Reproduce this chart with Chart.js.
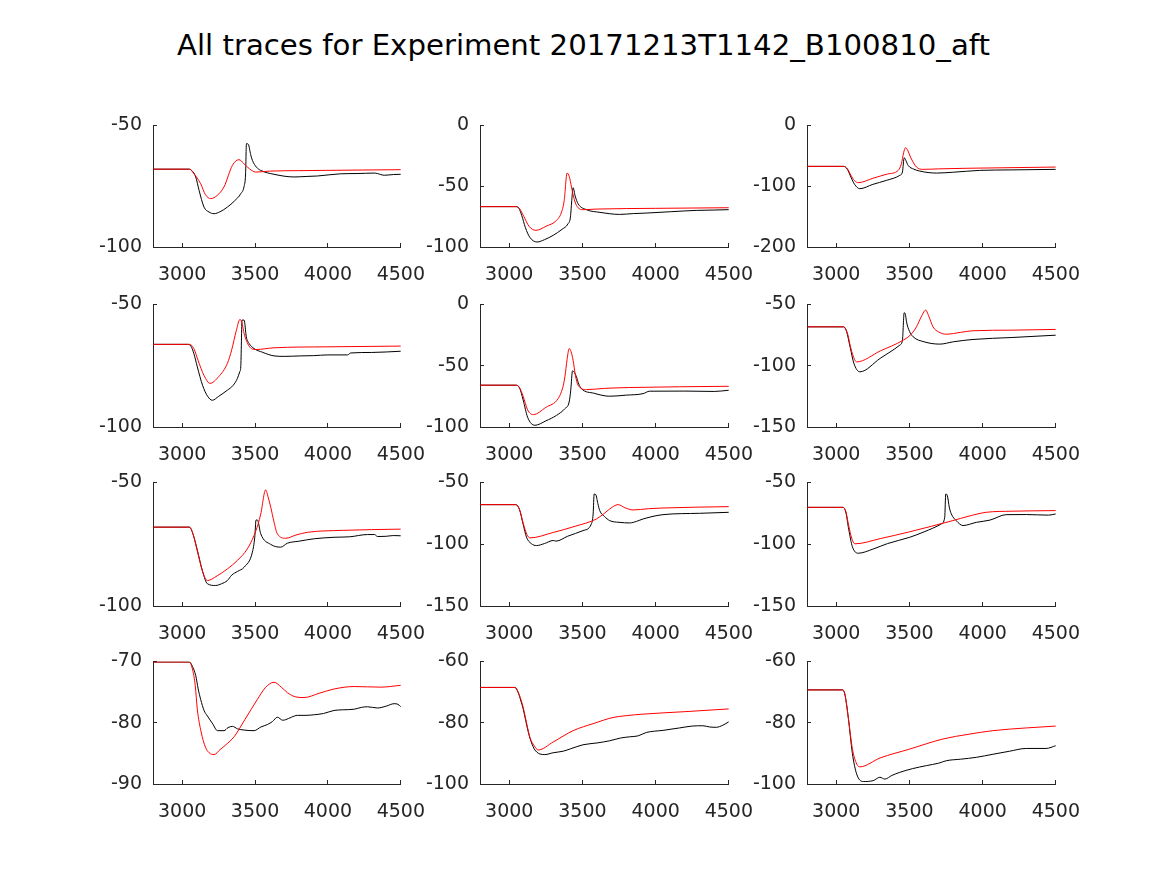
<!DOCTYPE html>
<html>
<head>
<meta charset="utf-8">
<script src="https://cdn.jsdelivr.net/npm/chart.js@4/dist/chart.umd.min.js"></script>
<style>
  body { margin: 0; background: #fff; width: 1167px; height: 875px; position: relative; overflow: hidden; font-family: "DejaVu Sans", sans-serif; }
  #title { position: absolute; left: 0; width: 1167px; top: 31px; text-align: center; font-size: 29.2px; line-height: 29px; color: #000; }
  canvas { position: absolute; }
</style>
</head>
<body>
<div id="title">All traces for Experiment 20171213T1142_B100810_aft</div>
<script>
// x axis shared by every panel
const xRange = [2800, 4500];
const xTicks = [3000, 3500, 4000, 4500];

// y ticks per panel (first and last are the axis limits)
const yTicks1 = [-100, -50];
const yTicks2 = [-100, -50, 0];
const yTicks3 = [-200, -100, 0];
const yTicks4 = [-100, -50];
const yTicks5 = [-100, -50, 0];
const yTicks6 = [-150, -100, -50];
const yTicks7 = [-100, -50];
const yTicks8 = [-150, -100, -50];
const yTicks9 = [-150, -100, -50];
const yTicks10 = [-90, -80, -70];
const yTicks11 = [-100, -80, -60];
const yTicks12 = [-100, -80, -60];

// traces as [time, value]
const black1 = [[2800,-68],[3045,-68],[3058,-68.2],[3093,-71.2],[3116,-76.7],[3150,-83.6],[3184,-85.6],[3219,-86.3],[3260,-85.5],[3310,-83.6],[3360,-81],[3402,-78.1],[3425,-75],[3435,-70],[3441,-57.5],[3454,-57.8],[3470,-62],[3482,-64.4],[3510,-67.2],[3539,-68.5],[3630,-70.1],[3768,-71.2],[3850,-71],[3928,-70.8],[4088,-69.9],[4200,-69.8],[4317,-69.6],[4340,-69.8],[4386,-70.5],[4450,-70.2],[4500,-70.1]];
const red1 = [[2800,-68],[3050,-68],[3080,-69.8],[3127,-74],[3160,-78.5],[3196,-80.1],[3240,-78.8],[3287,-75.3],[3345,-66.4],[3390,-64.1],[3420,-65.5],[3447,-67.1],[3505,-69.2],[3600,-68.8],[3800,-68.6],[4500,-68.2]];

const black2 = [[2800,-66.8],[3045,-66.8],[3065,-68],[3085,-74],[3110,-84],[3140,-92],[3191,-95.9],[3240,-94],[3300,-90.4],[3360,-85.5],[3402,-80.8],[3418,-75.3],[3428,-60],[3436,-51.2],[3450,-58],[3470,-64.4],[3527,-69.3],[3620,-71.5],[3754,-73.2],[3850,-72.5],[3936,-72.1],[4100,-71],[4277,-69.9],[4400,-69.6],[4500,-69.3]];
const red2 = [[2800,-66.8],[3045,-66.8],[3070,-68.5],[3100,-75],[3135,-83],[3182,-86.3],[3250,-83],[3323,-78.1],[3355,-72],[3375,-62],[3395,-39.2],[3410,-42],[3425,-50.7],[3440,-59],[3459,-65.8],[3504,-69.3],[3600,-68.8],[4000,-68.2],[4500,-67.7]];

const black3 = [[2800,-67.4],[3050,-67.4],[3075,-72],[3100,-85],[3125,-97],[3161,-104.1],[3250,-97],[3343,-90.4],[3434,-82.2],[3452,-76.7],[3464,-53.2],[3476,-58],[3491,-65.8],[3530,-72],[3570,-75.1],[3684,-78.4],[3800,-77],[3979,-74],[4200,-73.2],[4500,-72.3]];
const red3 = [[2800,-67.4],[3050,-67.4],[3075,-71],[3100,-82],[3125,-91],[3150,-94.2],[3250,-87],[3350,-80],[3423,-74],[3445,-63],[3460,-45],[3473,-36.7],[3490,-42],[3507,-52],[3548,-68.5],[3593,-72.3],[3700,-71.5],[3900,-70.5],[4500,-68.5]];

const black4 = [[2800,-66.3],[3040,-66.3],[3060,-67],[3080,-70],[3104,-75.5],[3140,-83],[3175,-87.5],[3207,-89.1],[3250,-87.5],[3310,-85],[3350,-83],[3379,-80.2],[3395,-77.5],[3402,-75.5],[3411,-56.4],[3425,-56.4],[3440,-63.2],[3460,-66],[3493,-68],[3550,-69.5],[3630,-71],[3700,-71.2],[3814,-71],[3900,-70.9],[4000,-70.6],[4134,-70.6],[4157,-69.8],[4300,-69.6],[4500,-69.1]];
const red4 = [[2800,-66.3],[3050,-66.3],[3080,-68],[3110,-73],[3150,-79],[3191,-82.2],[3250,-79.5],[3310,-74.1],[3340,-68.5],[3370,-61],[3397,-56.1],[3412,-58],[3425,-61.9],[3459,-67],[3505,-68.4],[3630,-67.7],[4000,-67.3],[4500,-67]];

const black5 = [[2800,-65.9],[3045,-65.9],[3070,-68],[3095,-78],[3125,-92],[3175,-98.6],[3250,-95],[3323,-90.5],[3380,-85],[3409,-79.6],[3420,-70],[3432,-54.2],[3445,-55.5],[3459,-59.1],[3475,-65],[3493,-68.7],[3580,-72.5],[3686,-74.9],[3800,-74],[3914,-72.8],[3959,-70.8],[4200,-70.7],[4400,-71],[4500,-70]];
const red5 = [[2800,-65.9],[3045,-65.9],[3070,-68],[3095,-75],[3125,-86],[3164,-89.9],[3250,-84],[3334,-76.8],[3365,-68],[3380,-59.1],[3395,-45],[3409,-36],[3422,-38.5],[3436,-45.5],[3452,-58],[3470,-65.9],[3527,-69.5],[3650,-68.5],[3823,-67.8],[4500,-66.8]];

const black6 = [[2800,-68.3],[3050,-68.3],[3070,-72],[3095,-85],[3120,-98],[3161,-105],[3300,-94],[3434,-83.2],[3452,-79.2],[3464,-56.8],[3472,-58],[3480,-64.2],[3500,-72],[3525,-76.4],[3600,-80.5],[3707,-82.4],[3800,-80.5],[3934,-78.6],[4200,-77],[4500,-75.1]];
const red6 = [[2800,-68.3],[3050,-68.3],[3075,-73],[3100,-86],[3125,-95],[3139,-96.9],[3300,-88],[3457,-79.2],[3510,-74.5],[3548,-68.3],[3585,-59],[3611,-54.6],[3630,-59],[3661,-68.3],[3700,-72.5],[3752,-74.3],[3850,-72.8],[3934,-71.5],[4200,-71],[4500,-70.4]];

const black7 = [[2800,-68.1],[3050,-68.1],[3075,-71],[3104,-77.4],[3140,-86],[3173,-91],[3230,-91.7],[3270,-91],[3310,-89.7],[3340,-87.5],[3380,-86],[3425,-84.3],[3482,-78.2],[3498,-72.2],[3507,-65.2],[3516,-65.2],[3539,-70.8],[3608,-75.1],[3676,-76.2],[3722,-74.6],[3800,-73.8],[3906,-72.8],[4042,-72.2],[4150,-72],[4271,-71.1],[4320,-71.1],[4340,-71.9],[4400,-71.8],[4450,-71.5],[4500,-71.6]];
const red7 = [[2800,-68.1],[3050,-68.1],[3075,-71],[3105,-78],[3140,-86],[3173,-89.7],[3240,-87.8],[3310,-85],[3380,-81.5],[3447,-76.9],[3493,-71.5],[3520,-67],[3539,-62.8],[3573,-53],[3590,-56],[3608,-60.1],[3630,-66],[3653,-70.8],[3711,-72.6],[3780,-71.3],[3859,-70.2],[4100,-69.4],[4500,-68.9]];

const black8 = [[2800,-68],[3045,-68],[3070,-72],[3095,-84],[3118,-94.4],[3150,-99.5],[3186,-101.1],[3240,-99.5],[3300,-97],[3320,-97.5],[3400,-93.5],[3504,-89],[3561,-83.6],[3573,-75.5],[3580,-59.4],[3591,-59.9],[3605,-67],[3618,-72.8],[3650,-77.5],[3686,-80.9],[3750,-82.3],[3823,-82.8],[3870,-81.5],[3914,-79.6],[4050,-76.1],[4300,-75],[4500,-74.2]];
const red8 = [[2800,-68],[3045,-68],[3070,-72],[3095,-83],[3120,-92],[3141,-94.9],[3300,-90.5],[3450,-85.5],[3595,-79.6],[3650,-75],[3686,-71.5],[3743,-68],[3790,-70.5],[3845,-72.3],[3950,-71.3],[4050,-70.7],[4500,-69.6]];

const black9 = [[2800,-70.2],[3045,-70.2],[3065,-74],[3085,-88],[3110,-102],[3150,-107.3],[3250,-104],[3350,-99.5],[3502,-94.4],[3600,-90],[3718,-83.6],[3741,-78.2],[3748,-59.4],[3759,-60.8],[3772,-70],[3786,-75.5],[3820,-81],[3866,-84.9],[3957,-82.3],[4050,-80.5],[4161,-76.1],[4300,-76],[4450,-76.5],[4500,-75.5]];
const red9 = [[2800,-70.2],[3045,-70.2],[3065,-73.5],[3085,-85],[3105,-95],[3127,-99.7],[3300,-95.5],[3500,-90],[3797,-80.9],[3900,-77.5],[4024,-74.2],[4200,-73.3],[4500,-72.8]];

const black10 = [[2800,-70.1],[3050,-70.1],[3070,-70.8],[3093,-72.3],[3110,-74.5],[3127,-76.2],[3150,-78],[3173,-78.9],[3210,-80.2],[3242,-81.3],[3287,-81.3],[3315,-80.8],[3345,-80.6],[3380,-81],[3425,-81.2],[3493,-81.3],[3540,-80.7],[3585,-80.3],[3620,-79.8],[3653,-79.1],[3690,-79.6],[3711,-79.5],[3750,-79.1],[3791,-78.8],[3850,-78.8],[3906,-78.7],[3970,-78.5],[4042,-78],[4100,-77.9],[4180,-77.8],[4230,-77.5],[4271,-77.4],[4340,-77.6],[4400,-77.3],[4454,-76.9],[4480,-77],[4500,-77.4]];
const red10 = [[2800,-70.1],[3047,-70.1],[3070,-71.2],[3090,-74],[3104,-77.8],[3130,-81.5],[3160,-84],[3185,-84.9],[3219,-85.2],[3260,-84.4],[3300,-83.6],[3356,-82.3],[3430,-79.5],[3516,-76.2],[3570,-74.3],[3630,-73.4],[3680,-74.2],[3722,-75.1],[3780,-75.8],[3836,-75.9],[3940,-75.2],[4042,-74.5],[4180,-74.1],[4363,-74.2],[4500,-73.9]];

const black11 = [[2800,-68.5],[3039,-68.5],[3060,-70],[3080,-73],[3095,-75.5],[3120,-81],[3141,-85],[3170,-88.5],[3209,-90.2],[3243,-90.4],[3300,-89.8],[3368,-89.3],[3420,-88.5],[3504,-87.2],[3600,-86.6],[3686,-85.9],[3760,-85],[3823,-84.6],[3880,-84.3],[3936,-83.2],[4050,-82.5],[4164,-81.7],[4250,-81.1],[4323,-81],[4370,-81.4],[4414,-81.5],[4460,-80.8],[4500,-79.7]];
const red11 = [[2800,-68.5],[3039,-68.5],[3060,-70],[3080,-72.5],[3095,-75],[3120,-80.5],[3141,-84.8],[3170,-87.5],[3198,-88.9],[3300,-86.3],[3436,-82.6],[3580,-80.2],[3709,-78.3],[3800,-77.7],[3914,-77.2],[4200,-76.4],[4500,-75.5]];

const black12 = [[2800,-69.3],[3045,-69.3],[3060,-71],[3082,-78.3],[3110,-90],[3139,-96.7],[3184,-99.2],[3252,-98.9],[3298,-97.8],[3332,-98.4],[3380,-97.2],[3434,-96.2],[3520,-95],[3616,-94],[3700,-93.2],[3752,-92.4],[3850,-91.9],[3957,-91.3],[4070,-90.3],[4184,-89.3],[4298,-88.4],[4434,-88.4],[4500,-87.5]];
const red12 = [[2800,-69.3],[3045,-69.3],[3060,-71],[3082,-78.3],[3110,-88.5],[3140,-93.5],[3161,-94.4],[3300,-91.5],[3502,-88.6],[3730,-85.3],[3900,-83.8],[4070,-82.6],[4300,-81.7],[4500,-81.1]];

const panels = [
    { black: black1, red: red1, yTicks: yTicks1 },
    { black: black2, red: red2, yTicks: yTicks2 },
    { black: black3, red: red3, yTicks: yTicks3 },
    { black: black4, red: red4, yTicks: yTicks4 },
    { black: black5, red: red5, yTicks: yTicks5 },
    { black: black6, red: red6, yTicks: yTicks6 },
    { black: black7, red: red7, yTicks: yTicks7 },
    { black: black8, red: red8, yTicks: yTicks8 },
    { black: black9, red: red9, yTicks: yTicks9 },
    { black: black10, red: red10, yTicks: yTicks10 },
    { black: black11, red: red11, yTicks: yTicks11 },
    { black: black12, red: red12, yTicks: yTicks12 },
];

// axes boxes in page pixels
const colLeft = [153, 480, 807];
const colRight = [401, 729, 1056];
const rowTop = [125, 304, 482, 661];
const rowBottom = [247, 427, 606, 784];

const PAD_L = 70, PAD_T = 20, PAD_R = 35, PAD_B = 45;
const axisColor = '#262626';
const tickFont = { family: 'DejaVu Sans', size: 19 };

function toPoints(arr) {
    return arr.map(p => ({ x: p[0], y: p[1] }));
}

function makeChart(canvas, p) {
    return new Chart(canvas.getContext('2d'), {
        type: 'line',
        data: {
            datasets: [
                { data: toPoints(p.red), borderColor: '#ff0000', borderWidth: 1, pointRadius: 0, cubicInterpolationMode: 'monotone', fill: false },
                { data: toPoints(p.black), borderColor: '#000000', borderWidth: 1, pointRadius: 0, cubicInterpolationMode: 'monotone', fill: false },
            ]
        },
        options: {
            responsive: false,
            maintainAspectRatio: false,
            animation: false,
            devicePixelRatio: 1,
            layout: { padding: { top: PAD_T, right: PAD_R, left: 0, bottom: 0 } },
            plugins: { legend: { display: false }, tooltip: { enabled: false } },
            scales: {
                x: {
                    type: 'linear',
                    min: xRange[0],
                    max: xRange[1],
                    afterBuildTicks: (s) => { s.ticks = xTicks.map(v => ({ value: v })); },
                    afterFit: (s) => { s.height = PAD_B; },
                    grid: { drawOnChartArea: false, tickLength: -4, color: axisColor, tickColor: axisColor },
                    border: { color: axisColor, width: 1 },
                    ticks: { color: axisColor, font: tickFont, padding: 21, maxRotation: 0, autoSkip: false, callback: (v) => String(v) }
                },
                y: {
                    type: 'linear',
                    min: p.yTicks[0],
                    max: p.yTicks[p.yTicks.length - 1],
                    afterBuildTicks: (s) => { s.ticks = p.yTicks.map(v => ({ value: v })); },
                    afterFit: (s) => { s.width = PAD_L; },
                    grid: { drawOnChartArea: false, tickLength: -4, color: axisColor, tickColor: axisColor },
                    border: { color: axisColor, width: 1 },
                    ticks: { color: axisColor, font: tickFont, padding: 15, autoSkip: false, callback: (v) => String(v) }
                }
            }
        }
    });
}

panels.forEach(function(p, i) {
    const col = i % 3, row = Math.floor(i / 3);
    const targetW = colRight[col] - colLeft[col];
    const targetH = rowBottom[row] - rowTop[row];
    const canvas = document.createElement('canvas');
    const w = targetW + PAD_L + PAD_R;
    const h = targetH + PAD_T + PAD_B;
    canvas.width = w;
    canvas.height = h;
    document.body.appendChild(canvas);

    let chart = makeChart(canvas, p);
    // grow the canvas if the layout ate into the plot box, then redraw
    const a = chart.chartArea;
    const dw = Math.round(targetW - (a.right - a.left));
    const dh = Math.round(targetH - (a.bottom - a.top));
    if (dw !== 0 || dh !== 0) {
        chart.destroy();
        canvas.width = w + dw;
        canvas.height = h + dh;
        chart = makeChart(canvas, p);
    }
    canvas.style.left = (colLeft[col] - Math.round(chart.chartArea.left)) + 'px';
    canvas.style.top = (rowTop[row] - Math.round(chart.chartArea.top)) + 'px';
});
</script>
</body>
</html>
